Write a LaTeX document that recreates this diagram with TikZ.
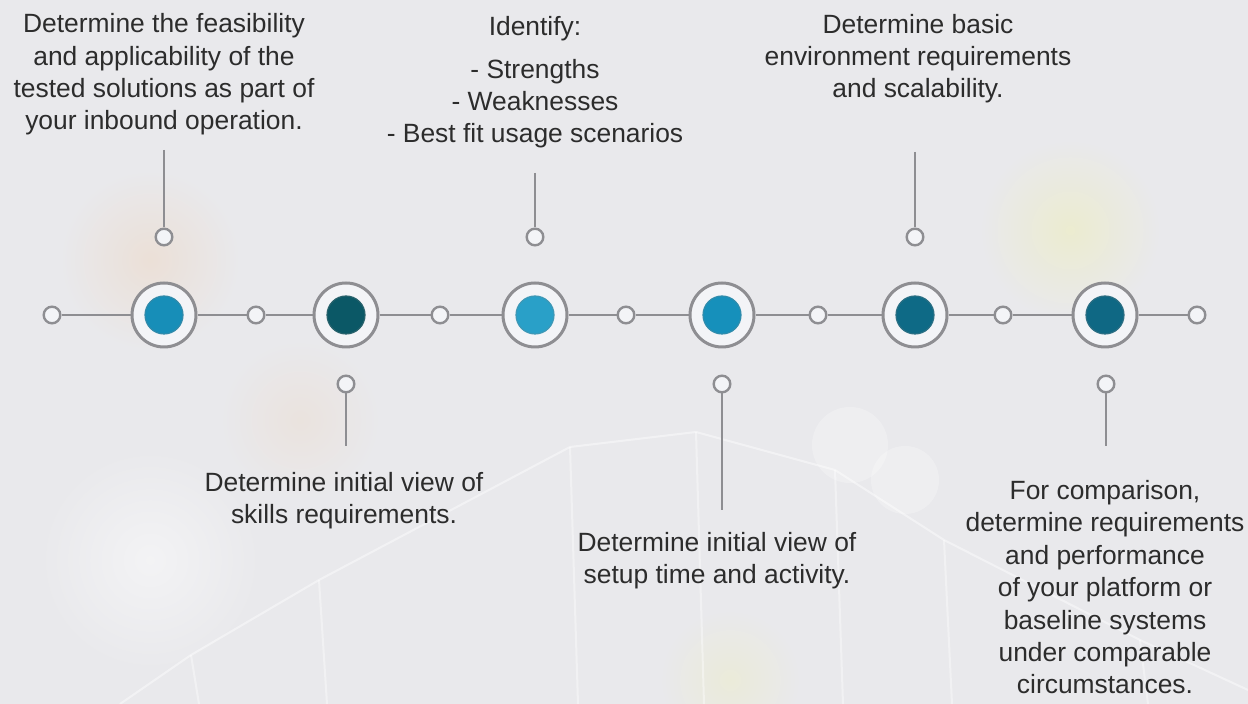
\documentclass[tikz,border=0pt]{standalone}
\usepackage{fontspec}
\setmainfont{Liberation Sans}
\usepackage{xcolor}
\usepackage{tikz}

\definecolor{bgray}{HTML}{E9E9EC}
\definecolor{linegray}{HTML}{8E8E92}
\definecolor{ringfill}{HTML}{F3F4F7}
\definecolor{textgray}{HTML}{2C2C2C}
\definecolor{dotA}{HTML}{178EB8}
\definecolor{dotB}{HTML}{0B5866}
\definecolor{dotC}{HTML}{29A0C8}
\definecolor{dotD}{HTML}{1690BB}
\definecolor{dotE}{HTML}{0E6A86}
\definecolor{dotF}{HTML}{0F6884}

\begin{document}
\begin{tikzpicture}[x=0.5pt, y=-0.5pt]
    \tikzstyle{ring} = [circle, draw=linegray, line width=1.5pt, fill=ringfill, inner sep=0pt, minimum size=32pt]
    \tikzstyle{dot} = [circle, inner sep=0pt, minimum size=19pt, line width=0.6pt]
    \tikzstyle{joint} = [circle, draw=linegray, line width=1.2pt, fill=ringfill, inner sep=0pt, minimum size=8.3pt]
    \tikzstyle{link} = [draw=linegray, line width=1.25pt]
    \tikzstyle{caption} = [align=center, anchor=base, inner sep=0pt, text=textgray, font=\fontsize{13.2}{16.2}\selectfont]

    % Backdrop
    \fill[bgray] (0,0) rectangle (1248,704);
    \useasboundingbox (0,0) rectangle (1248,704);
    \shade[inner color=orange!9!bgray, outer color=bgray] (150,260) circle (90);
    \shade[inner color=yellow!12!bgray, outer color=bgray] (1070,230) circle (90);
    \shade[inner color=orange!6!bgray, outer color=bgray] (300,420) circle (80);
    \shade[inner color=yellow!8!bgray, outer color=bgray] (730,680) circle (70);
    \shade[inner color=white!45!bgray, outer color=bgray] (150,560) circle (110);
    \fill[white, opacity=0.25] (850,445) circle (38);
    \fill[white, opacity=0.25] (905,480) circle (34);

    % Network in the back
    \draw[white, opacity=0.45, line width=1pt]
        (120,704) -- (191,655) -- (319,580) -- (570,447) -- (696,432)
        -- (835,470) -- (944,540) -- (1140,640) -- (1248,690);
    \foreach \x/\y in {191/655, 319/580, 570/447, 696/432, 835/470, 944/540, 1140/640} {
        \draw[white, opacity=0.4, line width=1pt] (\x,\y) -- (\x+8,704);
    }

    % Milestones
    \foreach \x/\c [count=\i] in {164/dotA, 346/dotB, 535/dotC, 722/dotD, 915/dotE, 1105/dotF} {
        \node[ring] (m\i) at (\x,315) {};
        \node[dot, fill=\c, draw=\c!75!gray] (d\i) at (m\i) {};
    }

    % Joints on the timeline
    \foreach \x [count=\i from 0] in {52, 256, 440, 626, 818, 1003, 1197} {
        \node[joint] (j\i) at (\x,315) {};
    }
    \foreach \i in {1,...,6} {
        \pgfmathtruncatemacro{\k}{\i-1}
        \draw[link] (j\k) -- (m\i) -- (j\i);
    }

    % Pins above
    \foreach \i/\x/\t in {1/164/150, 3/535/173, 5/915/152} {
        \node[joint] (p\i) at (\x,237) {};
        \coordinate (t\i) at (\x,\t);
        \draw[link] (t\i) -- (p\i);
    }

    % Pins below
    \foreach \i/\x/\b in {2/346/446, 4/722/510, 6/1106/446} {
        \node[joint] (p\i) at (\x,384) {};
        \coordinate (b\i) at (\x,\b);
        \draw[link] (p\i) -- (b\i);
    }

    % Captions (placed on the baseline of their last line)
    \node[caption] (txt1) at (164,130) {Determine the feasibility\\and applicability of the\\tested solutions as part of\\your inbound operation.};
    \node[caption] (txt3) at (535,143) {Identify:\\[5pt]- Strengths\\- Weaknesses\\- Best fit usage scenarios};
    \node[caption] (txt5) at (918,98) {Determine basic\\environment requirements\\and scalability.};
    \node[caption] (txt2) at (344,524) {Determine initial view of\\skills requirements.};
    \node[caption] (txt4) at (717,584) {Determine initial view of\\setup time and activity.};
    \node[caption] (txt6) at (1105,694) {For comparison,\\determine requirements\\and performance\\of your platform or\\baseline systems\\under comparable\\circumstances.};
\end{tikzpicture}
\end{document}
